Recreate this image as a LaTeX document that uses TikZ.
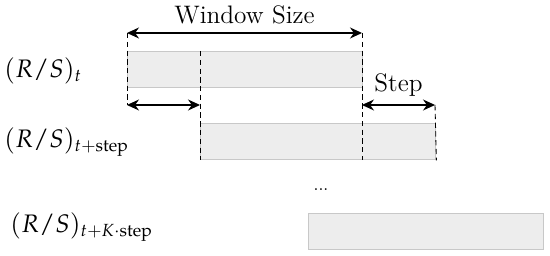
\documentclass[tikz,border=0pt]{standalone}
\usepackage{mathpazo}
\usetikzlibrary{arrows.meta,positioning}
\definecolor{barfill}{HTML}{EDEDED}
\definecolor{barline}{HTML}{C8C8C8}
\tikzset{
    winbar/.style={draw=barline, fill=barfill, line width=0.8pt, minimum width=4.7cm, minimum height=0.72cm, inner sep=0pt, anchor=north west},
    rowlabel/.style={anchor=base west, inner sep=0pt, font=\Large},
    guide/.style={densely dashed, line width=0.5pt},
    span/.style={{Stealth[length=2.4mm,width=2.2mm]}-{Stealth[length=2.4mm,width=2.2mm]}, line width=0.6pt}
}
\begin{document}
\begin{tikzpicture}
    \useasboundingbox (0,0) rectangle (11,5.12);
    % windows
    \node[winbar] (win1) at (2.54, 4.1) {};
    \node[winbar] (win2) at (4.0, 2.66) {};
    \node[winbar] (win3) at (6.16, 0.86) {};
    \node[rowlabel] (lab1) at (0.08, 3.56) {$(R/S)_t$};
    \node[rowlabel] (lab2) at (0.08, 2.16) {$(R/S)_{t+\mathrm{step}}$};
    \node[rowlabel] (lab3) at (0.2, 0.46) {$(R/S)_{t+K\cdot\mathrm{step}}$};
    \node (dots) at (6.42, 1.33) {...};

    % Window Size and Step
    \coordinate (wsL) at (2.54, 4.46);
    \coordinate (wsR) at (7.24, 4.46);
    \coordinate (stA) at (2.54, 3.02);
    \coordinate (stB) at (4.0, 3.02);
    \coordinate (stC) at (7.24, 3.02);
    \coordinate (stD) at (8.7, 3.02);
    \draw[guide] (wsL) -- (stA);
    \draw[guide] (wsR) -- (win2.south west -| wsR);
    \draw[guide] (win1.north west -| stB) -- (win2.south west);
    \draw[guide] (stD) -- (win2.south east);
    \draw[span] (wsL) -- node[above=0.05cm] (wsize) {\Large Window Size} (wsR);
    \draw[span] (stA) -- (stB);
    \draw[span] (stC) -- node[above=0.05cm] (step) {\Large Step} (stD);
\end{tikzpicture}
\end{document}
